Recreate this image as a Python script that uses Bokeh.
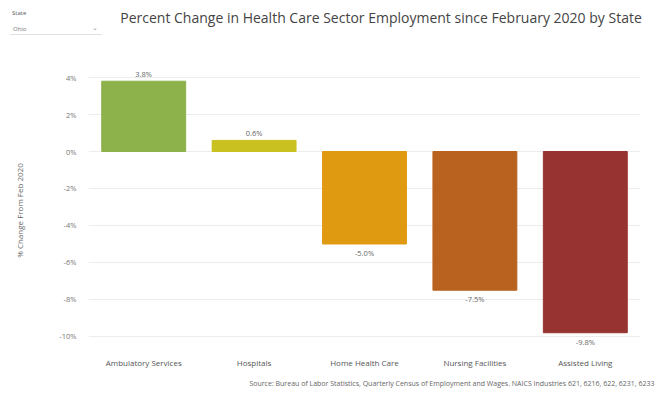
from bokeh.plotting import figure
from bokeh.layouts import column
from bokeh.models import ColumnDataSource, FactorRange, Range1d, PrintfTickFormatter, FixedTicker, Title, Div
from bokeh.core.properties import value
from bokeh.embed import file_html
from bokeh.resources import INLINE

categories = ["Ambulatory Services", "Hospitals", "Home Health Care", "Nursing Facilities", "Assisted Living"]
pct_change = [3.8, 0.6, -5.0, -7.5, -9.8]
bar_colors = ["#8DB14B", "#C9C11F", "#E09A12", "#B9621F", "#973331"]
y_ticks = [4, 2, 0, -2, -4, -6, -8, -10]

FONT = "Open Sans"
TITLE = "Percent Change in Health Care Sector Employment since February 2020 by State"
SOURCE = ("Source: Bureau of Labor Statistics, Quarterly Census of Employment and Wages. "
          "NAICS Industries 621, 6216, 622, 6231, 6233")

labels = [f"{v:.1f}%" for v in pct_change]
baselines = ["bottom" if v >= 0 else "top" for v in pct_change]
offsets = [-2 if v >= 0 else 4 for v in pct_change]
src = ColumnDataSource(dict(cat=categories, val=pct_change, color=bar_colors,
                            lab=labels, base=baselines, off=offsets))

# header: state selector and chart title
header = Div(width=656, height=40, margin=(0, 0, 0, 0), text=f"""
<div style="position:relative;width:656px;height:40px;font-family:'{FONT}';">
  <div style="position:absolute;left:12px;top:9px;font-size:6px;color:#555;">State</div>
  <div style="position:absolute;left:10px;top:23px;width:92px;height:12px;border-bottom:1px solid #e2e2e2;
              font-size:6px;line-height:12px;color:#777;padding-left:3px;">Ohio
    <span style="position:absolute;right:4px;top:-1px;color:#999;font-size:7px;">&#8964;</span></div>
  <div style="position:absolute;left:381px;top:18px;transform:translate(-50%,-50%);white-space:nowrap;
              font-size:14px;color:#444;">{TITLE}</div>
</div>""")

p = figure(width=656, height=358, output_backend="svg", toolbar_location=None,
           x_range=FactorRange(*categories, range_padding=0.0),
           y_range=Range1d(-10.76, 4.38),
           min_border_left=88, min_border_right=16, min_border_top=30, min_border_bottom=48,
           margin=(0, 0, 0, 0))
p.outline_line_color = None
p.background_fill_color = "white"
p.border_fill_color = "white"

p.vbar(x="cat", top="val", bottom=0, width=0.76, color="color", source=src)
p.text(x="cat", y="val", text="lab", text_baseline="base", y_offset="off", text_align="center",
       text_font=value(FONT), text_font_size="7.5px", text_color="#666666", source=src)

p.xgrid.grid_line_color = None
p.ygrid.grid_line_color = "#ececec"
p.ygrid.ticker = FixedTicker(ticks=y_ticks)

p.yaxis.ticker = FixedTicker(ticks=y_ticks)
p.yaxis.formatter = PrintfTickFormatter(format="%d%%")
p.yaxis.axis_line_color = None
p.yaxis.major_tick_line_color = None
p.yaxis.minor_tick_line_color = None
p.yaxis.major_label_text_font = FONT
p.yaxis.major_label_text_font_size = "7.5px"
p.yaxis.major_label_text_color = "#777777"
p.yaxis.major_label_standoff = 6
p.yaxis.axis_label = "% Change From Feb 2020"
p.yaxis.axis_label_text_font = FONT
p.yaxis.axis_label_text_font_size = "8px"
p.yaxis.axis_label_text_font_style = "normal"
p.yaxis.axis_label_text_color = "#666666"
p.yaxis.axis_label_standoff = 31

p.xaxis.axis_line_color = None
p.xaxis.major_tick_line_color = None
p.xaxis.major_label_text_font = FONT
p.xaxis.major_label_text_font_size = "8px"
p.xaxis.major_label_text_color = "#555555"
p.xaxis.major_label_standoff = 0

p.add_layout(Title(text=SOURCE, align="right", text_font=FONT, text_font_size="7px",
                   text_font_style="normal", text_color="#666666", standoff=12, offset=-14), "below")

with open("out.html", "w") as f:
    f.write(file_html(column(header, p, spacing=0, margin=(0, 0, 0, 0)), INLINE))
